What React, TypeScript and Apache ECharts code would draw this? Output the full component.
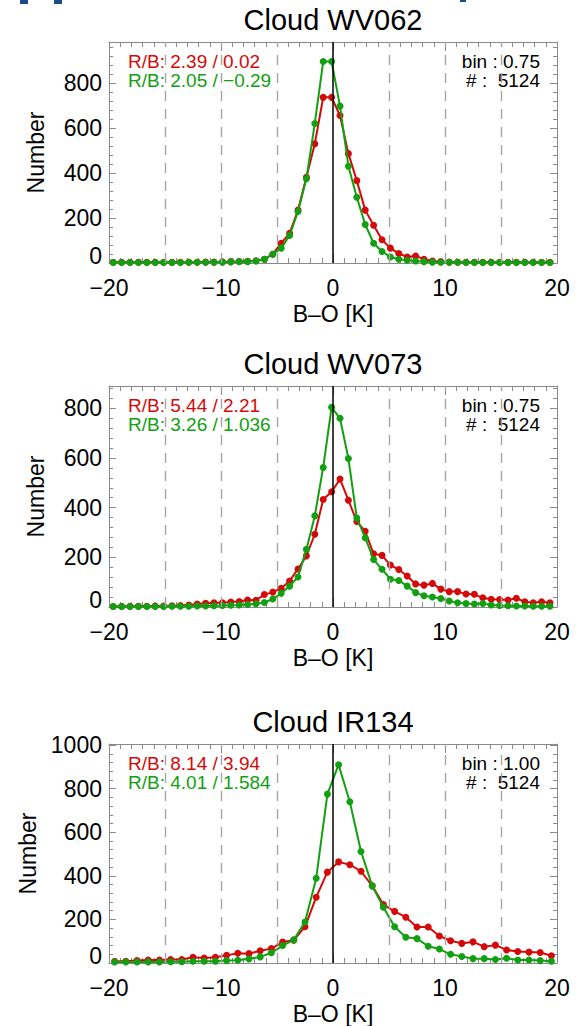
import React, { useEffect, useRef } from 'react';
import * as echarts from 'echarts';

// Bin centres (B-O in K)
const X075 = [-19.625, -18.875, -18.125, -17.375, -16.625, -15.875, -15.125, -14.375, -13.625, -12.875, -12.125, -11.375, -10.625, -9.875, -9.125, -8.375, -7.625, -6.875, -6.125, -5.375, -4.625, -3.875, -3.125, -2.375, -1.625, -0.875, -0.125, 0.625, 1.375, 2.125, 2.875, 3.625, 4.375, 5.125, 5.875, 6.625, 7.375, 8.125, 8.875, 9.625, 10.375, 11.125, 11.875, 12.625, 13.375, 14.125, 14.875, 15.625, 16.375, 17.125, 17.875, 18.625, 19.375];
const X100 = [-19.5, -18.5, -17.5, -16.5, -15.5, -14.5, -13.5, -12.5, -11.5, -10.5, -9.5, -8.5, -7.5, -6.5, -5.5, -4.5, -3.5, -2.5, -1.5, -0.5, 0.5, 1.5, 2.5, 3.5, 4.5, 5.5, 6.5, 7.5, 8.5, 9.5, 10.5, 11.5, 12.5, 13.5, 14.5, 15.5, 16.5, 17.5, 18.5, 19.5];

// WV062
const WV062_RED = [3, 3, 3, 3, 3, 3, 3, 3, 3, 3, 3, 4, 4, 5, 6, 7, 8, 10, 17, 39, 88, 132, 235, 381, 530, 736, 736, 655, 486, 366, 235, 168, 103, 66, 42, 27, 31, 17, 9, 6, 4, 3, 3, 3, 3, 3, 3, 3, 3, 3, 3, 3, 3];
const WV062_GREEN = [2, 2, 2, 2, 2, 2, 2, 2, 2, 3, 3, 3, 3, 4, 5, 6, 6, 9, 17, 39, 66, 122, 229, 374, 620, 895, 895, 697, 430, 292, 171, 88, 51, 27, 17, 12, 9, 6, 4, 3, 3, 3, 2, 2, 2, 2, 2, 2, 2, 2, 2, 2, 2];
// WV073
const WV073_RED = [2, 2, 3, 3, 3, 4, 4, 5, 6, 8, 12, 15, 17, 17, 20, 22, 28, 27, 50, 60, 75, 105, 153, 206, 293, 433, 464, 515, 430, 344, 305, 214, 208, 169, 151, 125, 93, 88, 95, 72, 62, 62, 52, 51, 37, 31, 30, 28, 35, 21, 17, 21, 17];
const WV073_GREEN = [2, 2, 2, 2, 2, 2, 2, 3, 3, 3, 4, 4, 5, 6, 7, 8, 10, 13, 18, 32, 55, 84, 121, 232, 367, 562, 804, 760, 598, 358, 279, 191, 152, 112, 107, 84, 58, 45, 40, 34, 24, 17, 14, 12, 14, 8, 6, 5, 4, 4, 3, 3, 3];
// IR134
const IR134_RED = [8, 8, 11, 14, 14, 16, 16, 26, 23, 26, 35, 45, 43, 56, 66, 96, 105, 166, 302, 417, 464, 451, 421, 354, 268, 237, 210, 165, 165, 124, 102, 90, 97, 75, 82, 60, 53, 50, 48, 33];
const IR134_GREEN = [5, 5, 5, 5, 5, 6, 6, 8, 8, 8, 11, 13, 19, 28, 47, 80, 106, 188, 389, 775, 910, 740, 512, 354, 256, 166, 118, 112, 77, 64, 40, 30, 20, 20, 16, 22, 14, 14, 11, 8];

const TITLES = ['Cloud WV062', 'Cloud WV073', 'Cloud IR134'];
const RED_LABELS = ['R/B: 2.39 / 0.02', 'R/B: 5.44 / 2.21', 'R/B: 8.14 / 3.94'];
const GREEN_LABELS = ['R/B: 2.05 / \u22120.29', 'R/B: 3.26 / 1.036', 'R/B: 4.01 / 1.584'];
const BIN_LABELS = ['bin : 0.75', 'bin : 0.75', 'bin : 1.00'];
const COUNT_LABELS = ['# :  5124', '# :  5124', '# :  5124'];
const Y_MAX = [982, 890, 1005];
const X_TICKS = [-20, -10, 0, 10, 20];
const DASH_POSITIONS = [-15, -10, -5, 5, 10, 15];

const PANEL_TOPS = [42, 386, 744];
const GRID_LEFT = 109;
const GRID_WIDTH = 448;
const GRID_HEIGHT = 221;

const RED = '#d40a0a';
const GREEN = '#12a012';
const FRAME = '#8a8a8a';
const FONT = '"Liberation Sans", Arial, Helvetica, sans-serif';

const zip = (xs: number[], ys: number[]) => xs.map((x, i) => [x, ys[i]]);

const PANEL_DATA = [
  { red: zip(X075, WV062_RED), green: zip(X075, WV062_GREEN) },
  { red: zip(X075, WV073_RED), green: zip(X075, WV073_GREEN) },
  { red: zip(X100, IR134_RED), green: zip(X100, IR134_GREEN) },
];

function buildOption() {
  const grid: any[] = [];
  const xAxis: any[] = [];
  const yAxis: any[] = [];
  const series: any[] = [];
  const graphic: any[] = [];

  PANEL_TOPS.forEach((top, i) => {
    grid.push({ left: GRID_LEFT, top, width: GRID_WIDTH, height: GRID_HEIGHT });
    const xBase = {
      type: 'value', gridIndex: i, min: X_TICKS[0], max: X_TICKS[X_TICKS.length - 1], interval: 10,
      axisLine: { show: true, onZero: false, lineStyle: { color: FRAME, width: 1 } },
      axisTick: { show: true, inside: true, length: 9, lineStyle: { color: FRAME } },
      minorTick: { show: true, splitNumber: 10, length: 5, lineStyle: { color: FRAME } },
      splitLine: { show: false },
    };
    xAxis.push({
      ...xBase, position: 'bottom',
      axisLabel: {
        show: true, margin: 13, fontSize: 23, color: '#000', fontFamily: FONT,
        formatter: (v: number) => (v < 0 ? '\u2212' + Math.abs(v) : String(v)),
      },
      name: 'B\u2013O [K]', nameLocation: 'middle', nameGap: 39,
      nameTextStyle: { fontSize: 23, color: '#000', fontFamily: FONT },
    });
    xAxis.push({ ...xBase, position: 'top', axisLabel: { show: false } });

    const yBase = {
      type: 'value', gridIndex: i, min: 0, max: Y_MAX[i], interval: 200,
      axisLine: { show: true, onZero: false, lineStyle: { color: FRAME, width: 1 } },
      axisTick: { show: true, inside: true, length: 7, lineStyle: { color: FRAME } },
      minorTick: { show: true, splitNumber: 5, length: 4, lineStyle: { color: FRAME } },
      splitLine: { show: false },
    };
    yAxis.push({
      ...yBase, position: 'left',
      axisLabel: {
        show: true, margin: 7, fontSize: 23, color: '#000', fontFamily: FONT,
        formatter: (v: number) => (v === 0 ? '{z|0}' : v % 200 === 0 ? String(v) : ''),
        rich: { z: { fontSize: 23, color: '#000', fontFamily: FONT, padding: [0, 0, 15, 0] } },
      },
      name: 'Number', nameLocation: 'middle', nameGap: 62,
      nameTextStyle: { fontSize: 23, color: '#000', fontFamily: FONT },
    });
    yAxis.push({ ...yBase, position: 'right', axisLabel: { show: false } });

    const xi = 2 * i;
    // guide lines
    series.push({
      type: 'line', xAxisIndex: xi, yAxisIndex: xi, data: [[0, 0]], symbol: 'none',
      lineStyle: { opacity: 0 }, silent: true, z: 1,
      markLine: {
        silent: true, symbol: ['none', 'none'], label: { show: false },
        data: [
          ...DASH_POSITIONS.map((v) => ({ xAxis: v, lineStyle: { type: [10, 8], color: '#a5a5a5', width: 1.4 } })),
          { xAxis: 0, lineStyle: { type: 'solid', color: '#000', width: 1.5 } },
        ],
      },
    });
    series.push({
      type: 'line', xAxisIndex: xi, yAxisIndex: xi, data: PANEL_DATA[i].red,
      symbol: 'circle', symbolSize: 7, showSymbol: true,
      itemStyle: { color: RED }, lineStyle: { color: RED, width: 2 }, z: 3,
    });
    series.push({
      type: 'line', xAxisIndex: xi, yAxisIndex: xi, data: PANEL_DATA[i].green,
      symbol: 'circle', symbolSize: 7, showSymbol: true,
      itemStyle: { color: GREEN }, lineStyle: { color: GREEN, width: 2 }, z: 4,
    });

    graphic.push({
      type: 'text', x: GRID_LEFT + GRID_WIDTH / 2, y: top - 22,
      style: { text: TITLES[i], fill: '#000', fontSize: 29, fontFamily: FONT, align: 'center', verticalAlign: 'middle' },
    });
    graphic.push({
      type: 'text', x: 128, y: top + 19,
      style: { text: RED_LABELS[i], fill: RED, fontSize: 19, fontFamily: FONT, align: 'left', verticalAlign: 'middle' },
    });
    graphic.push({
      type: 'text', x: 128, y: top + 38,
      style: { text: GREEN_LABELS[i], fill: GREEN, fontSize: 19, fontFamily: FONT, align: 'left', verticalAlign: 'middle' },
    });
    graphic.push({
      type: 'text', x: 540, y: top + 19,
      style: { text: BIN_LABELS[i], fill: '#000', fontSize: 19, fontFamily: FONT, align: 'right', verticalAlign: 'middle' },
    });
    graphic.push({
      type: 'text', x: 540, y: top + 38,
      style: { text: COUNT_LABELS[i], fill: '#000', fontSize: 19, fontFamily: FONT, align: 'right', verticalAlign: 'middle' },
    });
  });

  // cut-off header fragments at the very top
  graphic.push({ type: 'rect', shape: { x: 20, y: 0, width: 8, height: 4 }, style: { fill: '#1b4b8c' } });
  graphic.push({ type: 'rect', shape: { x: 54, y: 0, width: 8, height: 4 }, style: { fill: '#1b4b8c' } });
  graphic.push({ type: 'rect', shape: { x: 460, y: 0, width: 6, height: 2 }, style: { fill: '#1b4b8c' } });

  return { animation: false, backgroundColor: '#fff', grid, xAxis, yAxis, series, graphic };
}

export default function App() {
  const ref = useRef<HTMLDivElement>(null);
  useEffect(() => {
    if (!ref.current) return;
    const chart = echarts.init(ref.current, null, { renderer: 'svg' });
    chart.setOption(buildOption() as any);
    return () => chart.dispose();
  }, []);
  return (
    <div
      ref={ref}
      style={{ position: 'fixed', left: 0, top: 0, width: 582, height: 1026, background: '#fff' }}
    />
  );
}
